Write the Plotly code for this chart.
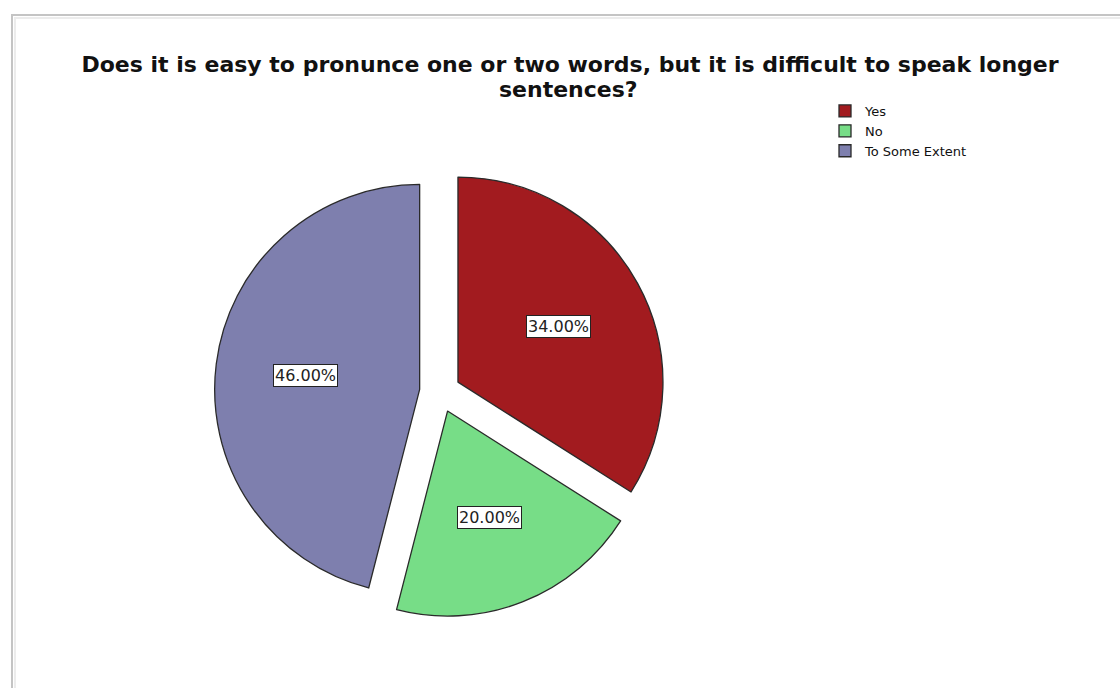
import math
import plotly.graph_objects as go

# Survey responses (percent of respondents)
categories = ["Yes", "No", "To Some Extent"]
percentages = [34.0, 20.0, 46.0]
slice_colors = ["#A21B1F", "#77DD87", "#7E7FAE"]
title_line1 = "Does it is easy to pronunce one or two words, but it is difficult to speak longer"
title_line2 = "sentences?"

W, H = 1120, 688
PULL = 0.1
FONT = "DejaVu Sans, Verdana, sans-serif"
# pie placement in pixels (margins are zero, so paper == page)
CX, CY, R = 440, 392, 205
box = R * (1 + PULL)
dom_x = [(CX - box) / W, (CX + box) / W]
dom_y = [1 - (CY + box) / H, 1 - (CY - box) / H]

fig = go.Figure()
fig.add_trace(go.Pie(
    labels=categories,
    values=percentages,
    sort=False,
    direction="clockwise",
    rotation=0,
    pull=[PULL] * len(categories),
    marker=dict(colors=slice_colors, line=dict(color="#2a2a2a", width=1.3)),
    textinfo="none",
    hoverinfo="label+percent",
    domain=dict(x=dom_x, y=dom_y),
))

# percentage labels in boxed annotations, placed along each slice's mid-angle
total = sum(percentages)
start = 0.0
for val in percentages:
    frac = val / total
    mid = (start + frac / 2) * 2 * math.pi
    start += frac
    dist = R * PULL + R * 0.56
    px = CX + dist * math.sin(mid)
    py = CY - dist * math.cos(mid)
    fig.add_annotation(
        x=px / W, y=1 - py / H, xref="paper", yref="paper",
        xanchor="center", yanchor="middle",
        text=f"{val:.2f}%", showarrow=False,
        font=dict(family=FONT, size=16, color="#222222"),
        bgcolor="white", bordercolor="#222222", borderwidth=1, borderpad=1,
    )

fig.add_annotation(
    x=568 / W, y=1 - 89 / H, xref="paper", yref="paper",
    xanchor="center", yanchor="middle",
    text=f"<b>{title_line2}</b>", showarrow=False,
    font=dict(family=FONT, size=22, color="#111111"),
)

# page frame
fig.add_shape(type="rect", xref="paper", yref="paper",
              x0=12 / W, x1=1.01, y0=-0.01, y1=1 - 15 / H,
              line=dict(color="#c4c4c4", width=2))
fig.add_shape(type="rect", xref="paper", yref="paper",
              x0=15 / W, x1=1.01, y0=-0.01, y1=1 - 18 / H,
              line=dict(color="#ececec", width=2))

fig.update_layout(
    width=W, height=H,
    margin=dict(l=0, r=0, t=0, b=0),
    paper_bgcolor="white",
    plot_bgcolor="white",
    title=dict(
        text=f"<b>{title_line1}</b>",
        x=570 / W, xanchor="center",
        y=1 - 64 / H, yanchor="middle",
        font=dict(family=FONT, size=22, color="#111111"),
    ),
    legend=dict(
        x=825 / W, y=1 - 96 / H, xanchor="left", yanchor="top",
        font=dict(family=FONT, size=13, color="#111111"),
        bgcolor="rgba(0,0,0,0)", tracegroupgap=0,
    ),
    showlegend=True,
)

fig.write_html("out.html")
